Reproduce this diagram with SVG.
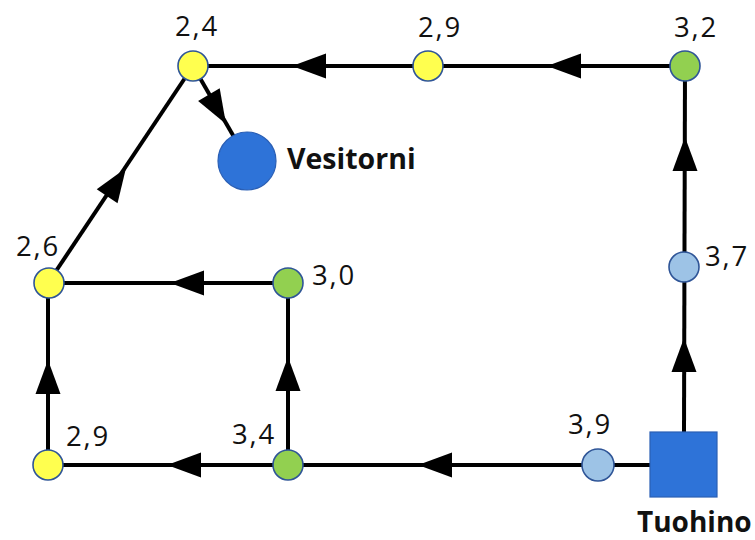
<svg xmlns="http://www.w3.org/2000/svg" xmlns:xlink="http://www.w3.org/1999/xlink" width="755" height="540" viewBox="0 0 755 540">
  <style>
    .edge { stroke: #000; stroke-width: 4; fill: none; stroke-linecap: butt; }
    .head { fill: #000; }
    .node { stroke: #2F5597; stroke-width: 1.6; }
    .yellow { fill: #FFFF4F; }
    .green { fill: #92D050; }
    .light { fill: #9DC3E6; }
    .main { fill: #2E73D8; stroke: #2A5FB5; stroke-width: 1.2; }
    .val { font-family: "Open Sans", "Liberation Sans", sans-serif; font-size: 27.5px; fill: #111; letter-spacing: 1.8px; }
    .name { font-family: "Open Sans", "Liberation Sans", sans-serif; font-size: 28.5px; font-weight: bold; fill: #111; }
  </style>
  <defs>
    <!-- arrowhead pointing along +x, tip at origin -->
    <path id="ah" class="head" d="M0,0 L-34,-12.5 L-34,12.5 Z"/>
  </defs>

  <g id="connectors">
    <line class="edge" x1="685" y1="66" x2="193" y2="66"/>
    <line class="edge" x1="684" y1="432" x2="685" y2="66"/>
    <line class="edge" x1="650" y1="465" x2="48" y2="465"/>
    <line class="edge" x1="288" y1="465" x2="288" y2="283"/>
    <line class="edge" x1="288" y1="283" x2="48" y2="283"/>
    <line class="edge" x1="48" y1="465" x2="48" y2="283"/>
    <line class="edge" x1="48" y1="283" x2="193" y2="66"/>
    <line class="edge" x1="193" y1="66" x2="234" y2="137"/>

    <use xlink:href="#ah" transform="translate(292,66) rotate(180)"/>
    <use xlink:href="#ah" transform="translate(547,66) rotate(180)"/>
    <use xlink:href="#ah" transform="translate(685,137) rotate(-90)"/>
    <use xlink:href="#ah" transform="translate(684,338) rotate(-90)"/>
    <use xlink:href="#ah" transform="translate(418,465) rotate(180)"/>
    <use xlink:href="#ah" transform="translate(167,465) rotate(180)"/>
    <use xlink:href="#ah" transform="translate(170,283) rotate(180)"/>
    <use xlink:href="#ah" transform="translate(48,360) rotate(-90)"/>
    <use xlink:href="#ah" transform="translate(288,357) rotate(-90)"/>
    <use xlink:href="#ah" transform="translate(126,168) rotate(-56.3)"/>
    <use xlink:href="#ah" transform="translate(226,124) rotate(59.8)"/>
  </g>

  <g id="n24">
    <circle class="node yellow" cx="193" cy="66" r="15"/>
    <text class="val" x="175" y="36">2,4</text>
  </g>
  <g id="n29top">
    <circle class="node yellow" cx="428" cy="66" r="15"/>
    <text class="val" x="418" y="37">2,9</text>
  </g>
  <g id="n32">
    <circle class="node green" cx="685" cy="66" r="15"/>
    <text class="val" x="674" y="37">3,2</text>
  </g>
  <g id="n37">
    <circle class="node light" cx="684" cy="267" r="15"/>
    <text class="val" x="705" y="266">3,7</text>
  </g>
  <g id="n26">
    <circle class="node yellow" cx="49" cy="283" r="15"/>
    <text class="val" x="16" y="256">2,6</text>
  </g>
  <g id="n30">
    <circle class="node green" cx="288" cy="283" r="15"/>
    <text class="val" x="312" y="285">3,0</text>
  </g>
  <g id="n29bottom">
    <circle class="node yellow" cx="48" cy="465" r="15"/>
    <text class="val" x="66" y="446">2,9</text>
  </g>
  <g id="n34">
    <circle class="node green" cx="288" cy="465" r="15"/>
    <text class="val" x="232" y="444">3,4</text>
  </g>
  <g id="n39">
    <circle class="node light" cx="598" cy="465" r="16"/>
    <text class="val" x="568" y="434">3,9</text>
  </g>
  <g id="vesitorni">
    <circle class="main" cx="247" cy="161" r="29"/>
    <text class="name" x="287" y="169">Vesitorni</text>
  </g>
  <g id="tuohino">
    <rect class="main" x="650" y="432" width="67" height="65"/>
    <text class="name" x="637" y="532" style="font-size:28px">Tuohino</text>
  </g>
</svg>
